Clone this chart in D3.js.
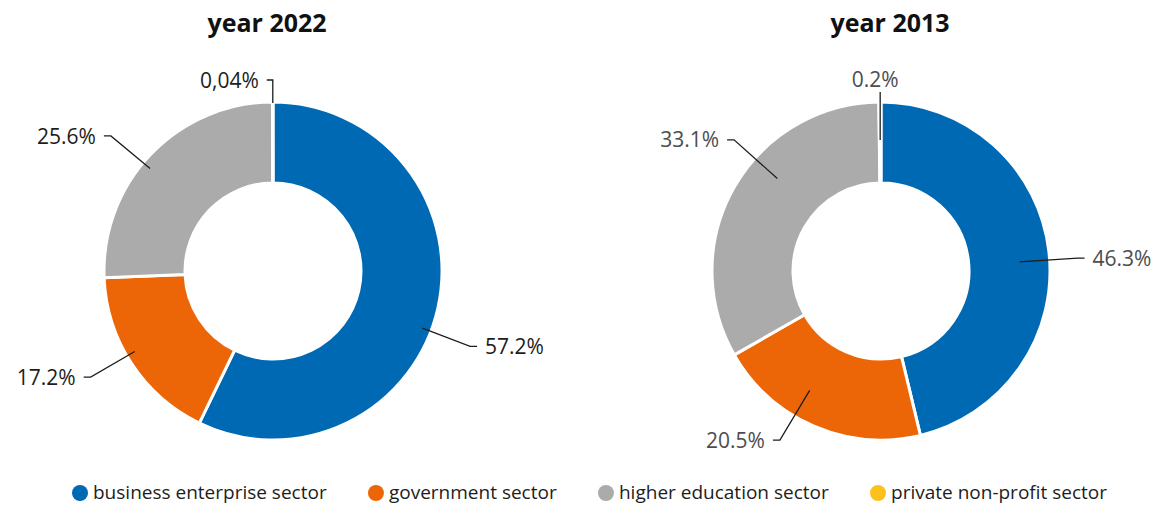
<!DOCTYPE html>
<html>
<head>
<meta charset="utf-8">
<script src="https://cdn.jsdelivr.net/npm/d3@7"></script>
<style>
  body { margin: 0; background: #fff; }
  svg { display: block; }
  text { font-family: "Open Sans", sans-serif; }
</style>
</head>
<body>
<svg id="chart" width="1152" height="505"></svg>
<script>
// data
const sectors = ['business enterprise sector', 'government sector', 'higher education sector', 'private non-profit sector'];
const sectorColors = ['#0069b4', '#ec6608', '#ababab', '#fcc11b'];
const years = ['2022', '2013'];
const share2022 = [57.2, 17.2, 25.6, 0.04];
const share2013 = [46.3, 20.5, 33.1, 0.2];
const labels2022 = ['57.2%', '17.2%', '25.6%', '0,04%'];
const labels2013 = ['46.3%', '20.5%', '33.1%', '0.2%'];

const svg = d3.select('#chart');

// layout per donut; shift = degrees the leader line is turned off the slice middle
const charts = [
  {year: years[0], values: share2022, labels: labels2022, cx: 273, cy: 271, titleX: 267,
   anchorR: 160, elbowR: 211, shift: [8, 3, -4, 0], labelColor: '#1d1d1b', small: 'left'},
  {year: years[1], values: share2013, labels: labels2013, cx: 881, cy: 271, titleX: 890,
   anchorR: 139, elbowR: 197, shift: [3, 7.5, 12, 0], labelColor: '#4d4d4d', small: 'top'}
];

const color = d3.scaleOrdinal().domain(sectors).range(sectorColors);
const pie = d3.pie().sort(null).value(d => d.v);
const arc = d3.arc().innerRadius(88).outerRadius(169);
const rad = Math.PI / 180;

charts.forEach(c => {
  let g = svg.append('g').attr('transform', `translate(${c.cx},${c.cy})`);
  let rows = c.values.map((v, i) => ({v: v, name: sectors[i], label: c.labels[i]}));
  let arcs = pie(rows);

  svg.append('text')
    .attr('x', c.titleX).attr('y', 32)
    .attr('text-anchor', 'middle')
    .style('font-size', '25px').style('font-weight', 700).style('fill', '#111')
    .text('year ' + c.year);

  g.selectAll('.slice')
    .data(arcs)
    .enter().append('path')
    .attr('class', 'slice')
    .attr('d', arc)
    .attr('fill', d => color(d.data.name))
    .attr('stroke', '#fff')
    .attr('stroke-width', 3);

  arcs.forEach((d, i) => {
    let a = (d.startAngle + d.endAngle) / 2 + c.shift[i] * rad;
    let pt = r => [r * Math.sin(a), -r * Math.cos(a)];
    let pts, tx, ty, anchor;
    if (d.data.v < 1) {
      let p1 = pt(c.small === 'left' ? 168 : 131);
      if (c.small === 'left') {
        pts = [p1, [p1[0], -191], [p1[0] - 6, -191]];
        tx = p1[0] - 14; ty = -191; anchor = 'end';
      } else {
        pts = [p1, [p1[0], -179]];
        tx = p1[0] - 5; ty = -192; anchor = 'middle';
      }
    } else {
      let p1 = pt(c.anchorR), p2 = pt(c.elbowR);
      let dir = p2[0] >= 0 ? 1 : -1;
      let p3 = [p2[0] + dir * 7, p2[1]];
      pts = [p1, p2, p3];
      tx = p3[0] + dir * 8; ty = p3[1]; anchor = dir > 0 ? 'start' : 'end';
    }
    g.append('path')
      .attr('d', d3.line()(pts))
      .attr('fill', 'none').attr('stroke', '#1d1d1b').attr('stroke-width', 1.3);
    g.append('text')
      .attr('x', tx).attr('y', ty).attr('dy', '0.36em')
      .attr('text-anchor', anchor)
      .style('font-size', '21px').style('fill', c.labelColor)
      .text(d.data.label);
  });
});

// legend, spread between x=72 and x=1107
let legend = svg.append('g');
let items = legend.selectAll('.item')
  .data(sectors)
  .enter().append('g').attr('class', 'item');
items.append('circle').attr('r', 8).attr('cx', 8).attr('cy', 0).attr('fill', d => color(d));
items.append('text').attr('x', 21).attr('y', 0).attr('dy', '0.34em')
  .style('font-size', '19px').style('fill', '#1d1d1b').text(d => d);
let widths = [];
items.each(function() { widths.push(21 + this.querySelector('text').getComputedTextLength()); });
let gap = (1107 - 72 - d3.sum(widths)) / (widths.length - 1);
let x = 72;
items.each(function(d, i) {
  d3.select(this).attr('transform', `translate(${x},493)`);
  x += widths[i] + gap;
});
</script>
</body>
</html>
